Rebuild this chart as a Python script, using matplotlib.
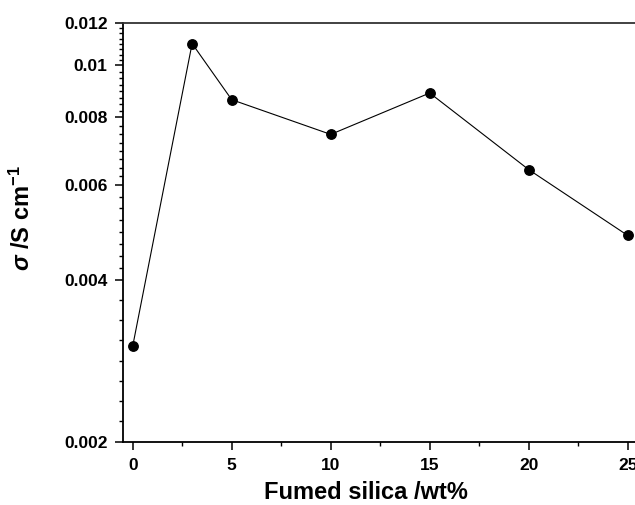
import numpy as np
import matplotlib.pyplot as plt
from matplotlib.ticker import FixedLocator, FuncFormatter, MultipleLocator

# Conductivity vs fumed silica content
silica_wt = [0, 3, 5, 10, 15, 20, 25]
sigma = [0.00301, 0.01097, 0.00863, 0.00744, 0.00888, 0.0064, 0.00483]

y_major = [0.002, 0.004, 0.006, 0.008, 0.01, 0.012]

plt.rcParams['font.family'] = ['Liberation Sans', 'DejaVu Sans']
plt.rcParams['font.weight'] = 'bold'
plt.rcParams['mathtext.fontset'] = 'custom'
plt.rcParams['mathtext.it'] = 'Liberation Sans:italic'
plt.rcParams['mathtext.bf'] = 'Liberation Sans:bold'

fig = plt.figure(figsize=(6.35, 5.05), dpi=100)
ax = fig.add_axes([0.1934, 0.1253, 0.8419, 0.830])

ax.plot(silica_wt, sigma, color='black', lw=0.8, marker='o',
        markersize=6.8, markerfacecolor='black', markeredgecolor='black')

ax.set_yscale('log')
ax.set_ylim(0.002, 0.012)
ax.set_xlim(-0.5, 26.5)

# major ticks at even steps, minor ticks split each gap evenly on the log axis
ax.yaxis.set_major_locator(FixedLocator(y_major))
ax.yaxis.set_major_formatter(FuncFormatter(lambda v, p: f'{v:g}'))
minor = []
for lo, hi in zip(y_major[:-1], y_major[1:]):
    minor.extend(np.geomspace(lo, hi, 9)[1:-1])
ax.yaxis.set_minor_locator(FixedLocator(minor))
ax.yaxis.set_minor_formatter(FuncFormatter(lambda v, p: ''))

ax.xaxis.set_major_locator(MultipleLocator(5))
ax.xaxis.set_minor_locator(MultipleLocator(2.5))

ax.tick_params(which='major', direction='out', length=6, width=1.1,
               labelsize=12.5)
ax.tick_params(axis='y', which='major', pad=5)
ax.tick_params(axis='x', which='major', pad=6)
ax.tick_params(which='minor', direction='out', length=3, width=1.0)
ax.tick_params(top=False, right=False)
for lab in ax.get_xticklabels() + ax.get_yticklabels():
    lab.set_fontweight('bold')

for side in ['left', 'bottom', 'top', 'right']:
    ax.spines[side].set_linewidth(1.3)
ax.spines['top'].set_color('#333333')

ax.set_xlabel('Fumed silica /wt%', fontsize=17, fontweight='bold')
ax.xaxis.set_label_coords(0.455, -0.094)
ax.set_ylabel(r'$\sigma$ /S cm$^{\mathbf{-1}}$', fontsize=17, fontweight='bold')
ax.yaxis.set_label_coords(-0.165, 0.534)

fig.savefig('out.png', dpi=100)
